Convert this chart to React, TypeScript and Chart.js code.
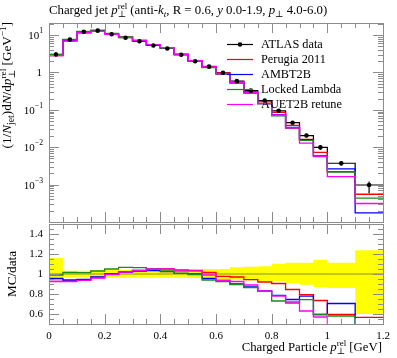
import React, { useEffect, useRef } from "react";
import { Chart, registerables } from "chart.js";
Chart.register(...registerables);

// ---------------- data ----------------
const binEdges = [0, 0.05, 0.1, 0.15, 0.2, 0.25, 0.3, 0.35, 0.4, 0.45, 0.5, 0.55, 0.6, 0.65, 0.7, 0.75, 0.8, 0.85, 0.9, 0.95, 1.0, 1.1, 1.2];
const atlasData = [3.03, 7.55, 12.3, 13.1, 10.5, 8.5, 6.85, 5.25, 4.37, 2.98, 2.0, 1.43, 0.98, 0.585, 0.326, 0.177, 0.094, 0.0453, 0.0205, 0.00988, 0.00373, 0.000975];
const bandLow = [0.94, 0.967, 0.967, 0.965, 0.963, 0.963, 0.963, 0.963, 0.963, 0.963, 0.96, 0.955, 0.95, 0.943, 0.937, 0.927, 0.927, 0.907, 0.893, 0.867, 0.86, 0.6];
const bandHigh = [1.16, 1.033, 1.033, 1.037, 1.04, 1.04, 1.04, 1.04, 1.04, 1.04, 1.045, 1.05, 1.05, 1.067, 1.073, 1.077, 1.103, 1.113, 1.113, 1.143, 1.113, 1.237];
const ratioPerugia = [0.927, 0.93, 0.94, 0.965, 1.0, 1.02, 1.037, 1.05, 1.05, 1.04, 1.037, 1.015, 0.977, 0.97, 0.943, 0.92, 0.905, 0.845, 0.793, 0.735, 0.595, 0.567];
const ratioAMBT2B = [0.955, 0.94, 0.945, 0.97, 1.0, 1.02, 1.03, 1.035, 1.023, 1.007, 1.0, 0.955, 0.935, 0.9, 0.87, 0.83, 0.787, 0.745, 0.778, 0.595, 0.705, 0.18];
const ratioLocked = [0.99, 1.015, 1.013, 1.03, 1.05, 1.067, 1.063, 1.053, 1.03, 1.007, 0.995, 0.94, 0.925, 0.893, 0.865, 0.827, 0.73, 0.71, 0.743, 0.595, 0.58, 0.445];
const ratioAUET2B = [0.925, 0.925, 0.937, 0.96, 0.995, 1.02, 1.037, 1.05, 1.05, 1.03, 1.03, 0.99, 0.937, 0.925, 0.89, 0.83, 0.78, 0.72, 0.63, 0.57, 0.44, 0.32];

const seriesNames = ["ATLAS data", "Perugia 2011", "AMBT2B", "Locked Lambda", "AUET2B retune"];
const seriesColors = ["#000000", "#ff0000", "#0000ff", "#1a8a1a", "#ff00ff"];
const xTickValues = [0, 0.2, 0.4, 0.6, 0.8, 1.0, 1.2];
const xTickLabels = ["0", "0.2", "0.4", "0.6", "0.8", "1", "1.2"];
const ratioTickValues = [0.6, 0.8, 1.0, 1.2, 1.4];
const ratioTickLabels = ["0.6", "0.8", "1", "1.2", "1.4"];
const logTickExps = [1, 0, -1, -2, -3];

// ---------------- helpers ----------------
const FONT = '"Liberation Serif", "DejaVu Serif", serif';
const FRAME = "#8c8c8c";

type Seg = { t: string; it?: boolean; sc?: number; dy?: number; back?: boolean };

function fontFor(s: Seg, size: number) {
  return `${s.it ? "italic " : ""}${size * (s.sc ?? 1)}px ${FONT}`;
}

function richWidth(ctx: CanvasRenderingContext2D, segs: Seg[], size: number) {
  let w = 0;
  let lastW = 0;
  for (const s of segs) {
    ctx.font = fontFor(s, size);
    const sw = ctx.measureText(s.t).width;
    if (s.back) {
      if (sw > lastW) { w += sw - lastW; lastW = sw; }
    } else {
      w += sw;
      lastW = sw;
    }
  }
  return w;
}

function drawRich(ctx: CanvasRenderingContext2D, segs: Seg[], x: number, y: number, size: number, align: "left" | "right" | "center") {
  const total = richWidth(ctx, segs, size);
  let cx = align === "left" ? x : align === "right" ? x - total : x - total / 2;
  let lastStart = cx;
  let lastW = 0;
  ctx.textAlign = "left";
  for (const s of segs) {
    ctx.font = fontFor(s, size);
    const sw = ctx.measureText(s.t).width;
    if (s.back) {
      ctx.fillText(s.t, lastStart, y + (s.dy ?? 0) * size);
      if (sw > lastW) { cx = lastStart + sw; lastW = sw; }
    } else {
      ctx.fillText(s.t, cx, y + (s.dy ?? 0) * size);
      lastStart = cx;
      lastW = sw;
      cx += sw;
    }
  }
}

const SUP = -0.38;
const SUB = 0.22;

function stepPoints(vals: number[]) {
  const pts = vals.map((v, i) => ({ x: binEdges[i], y: v }));
  pts.push({ x: binEdges[vals.length], y: vals[vals.length - 1] });
  return pts;
}

function crisp(v: number) {
  return Math.round(v) + 0.5;
}

function drawXTicks(ctx: CanvasRenderingContext2D, chart: any) {
  const a = chart.chartArea;
  const xs = chart.scales.x;
  for (let i = 0; i <= 24; i++) {
    const v = i * 0.05;
    const px = crisp(xs.getPixelForValue(v));
    const len = i % 4 === 0 ? 10 : 5;
    ctx.beginPath();
    ctx.moveTo(px, a.bottom);
    ctx.lineTo(px, a.bottom - len);
    ctx.moveTo(px, a.top);
    ctx.lineTo(px, a.top + len);
    ctx.stroke();
  }
}

function drawFrame(ctx: CanvasRenderingContext2D, chart: any) {
  const a = chart.chartArea;
  ctx.strokeStyle = FRAME;
  ctx.lineWidth = 1;
  ctx.strokeRect(crisp(a.left), crisp(a.top), Math.round(a.right) - Math.round(a.left), Math.round(a.bottom) - Math.round(a.top));
}

// ---------------- top panel plugin ----------------
const topPlugin = {
  id: "rivetTop",
  afterDatasetsDraw(chart: any) {
    const ctx: CanvasRenderingContext2D = chart.ctx;
    const a = chart.chartArea;
    const xs = chart.scales.x;
    const ys = chart.scales.y;
    ctx.save();
    // error bars for data
    ctx.strokeStyle = "#000";
    ctx.lineWidth = 1.2;
    atlasData.forEach((v, i) => {
      const cx = xs.getPixelForValue((binEdges[i] + binEdges[i + 1]) / 2);
      ctx.beginPath();
      ctx.moveTo(cx, ys.getPixelForValue(v * bandLow[i]));
      ctx.lineTo(cx, ys.getPixelForValue(v * bandHigh[i]));
      ctx.stroke();
    });
    drawFrame(ctx, chart);
    drawXTicks(ctx, chart);
    // log y ticks
    for (let e = -4; e <= 1; e++) {
      for (let m = 1; m <= 9; m++) {
        const v = m * Math.pow(10, e);
        if (v < ys.min || v > ys.max) continue;
        const py = crisp(ys.getPixelForValue(v));
        const len = m === 1 ? 10 : 5;
        ctx.beginPath();
        ctx.moveTo(a.left, py);
        ctx.lineTo(a.left + len, py);
        ctx.moveTo(a.right, py);
        ctx.lineTo(a.right - len, py);
        ctx.stroke();
      }
    }
    // y tick labels
    ctx.fillStyle = "#000";
    ctx.textBaseline = "middle";
    logTickExps.forEach((e) => {
      const py = ys.getPixelForValue(Math.pow(10, e)) + 1;
      if (e === 0) {
        drawRich(ctx, [{ t: "1" }], a.left - 7, py, 11, "right");
      } else {
        drawRich(ctx, [{ t: "10" }, { t: e < 0 ? "\u2212" + -e : String(e), sc: 0.7, dy: -0.45 }], a.left - 6, py, 11, "right");
      }
    });
    // title
    ctx.textBaseline = "alphabetic";
    drawRich(
      ctx,
      [
        { t: "Charged jet " },
        { t: "p", it: true },
        { t: "rel", sc: 0.7, dy: SUP },
        { t: "\u22a5", sc: 0.7, dy: SUB + 0.05, back: true },
        { t: " (anti-" },
        { t: "k", it: true },
        { t: "t", it: true, sc: 0.7, dy: SUB },
        { t: ", R = 0.6, " },
        { t: "y", it: true },
        { t: " 0.0-1.9, " },
        { t: "p", it: true },
        { t: "\u22a5", sc: 0.7, dy: SUB + 0.05 },
        { t: " 4.0-6.0)" },
      ],
      a.left,
      14,
      12.8,
      "left"
    );
    // y axis label
    ctx.save();
    ctx.translate(11, a.top - 1);
    ctx.rotate(-Math.PI / 2);
    drawRich(
      ctx,
      [
        { t: "(1/" },
        { t: "N", it: true },
        { t: "jet", sc: 0.75, dy: 0.2 },
        { t: ")d" },
        { t: "N", it: true },
        { t: "/d" },
        { t: "p", it: true },
        { t: "rel", sc: 0.7, dy: SUP },
        { t: "\u22a5", sc: 0.7, dy: SUB + 0.05, back: true },
        { t: " [GeV" },
        { t: "\u22121", sc: 0.7, dy: SUP },
        { t: "]" },
      ],
      0,
      0,
      13.2,
      "right"
    );
    ctx.restore();
    // legend
    const lx0 = 227, lx1 = 253, tx = 261;
    seriesNames.forEach((name, i) => {
      const y = 44 + 15 * i;
      ctx.strokeStyle = seriesColors[i];
      ctx.lineWidth = 1.2;
      ctx.beginPath();
      ctx.moveTo(lx0, y + 0.5);
      ctx.lineTo(lx1, y + 0.5);
      ctx.stroke();
      if (i === 0) {
        ctx.fillStyle = "#000";
        ctx.beginPath();
        ctx.arc((lx0 + lx1) / 2, y + 0.5, 2.3, 0, Math.PI * 2);
        ctx.fill();
      }
      ctx.fillStyle = "#000";
      ctx.textBaseline = "middle";
      drawRich(ctx, [{ t: name }], tx, y + 1, 12.3, "left");
    });
    ctx.restore();
  },
};

// ---------------- ratio panel plugin ----------------
const ratioPlugin = {
  id: "rivetRatio",
  afterDatasetsDraw(chart: any) {
    const ctx: CanvasRenderingContext2D = chart.ctx;
    const a = chart.chartArea;
    const xs = chart.scales.x;
    const ys = chart.scales.y;
    ctx.save();
    drawFrame(ctx, chart);
    drawXTicks(ctx, chart);
    for (let i = 10; i <= 30; i++) {
      const v = i * 0.05;
      const py = crisp(ys.getPixelForValue(v));
      const len = i % 4 === 0 ? 10 : 5;
      ctx.beginPath();
      ctx.moveTo(a.left, py);
      ctx.lineTo(a.left + len, py);
      ctx.moveTo(a.right, py);
      ctx.lineTo(a.right - len, py);
      ctx.stroke();
    }
    ctx.fillStyle = "#000";
    ctx.textBaseline = "middle";
    ratioTickValues.forEach((v, i) => {
      drawRich(ctx, [{ t: ratioTickLabels[i] }], a.left - 6, ys.getPixelForValue(v) + 0.5, 11, "right");
    });
    xTickValues.forEach((v, i) => {
      drawRich(ctx, [{ t: xTickLabels[i] }], xs.getPixelForValue(v), a.bottom + 12, 11, "center");
    });
    ctx.textBaseline = "alphabetic";
    drawRich(
      ctx,
      [{ t: "Charged Particle " }, { t: "p", it: true }, { t: "rel", sc: 0.7, dy: SUP }, { t: "\u22a5", sc: 0.7, dy: SUB + 0.05, back: true }, { t: " [GeV]" }],
      a.right - 1,
      a.bottom + 27,
      12.8,
      "right"
    );
    ctx.save();
    ctx.translate(16, (a.top + a.bottom) / 2);
    ctx.rotate(-Math.PI / 2);
    drawRich(ctx, [{ t: "MC/data" }], 0, 0, 13.2, "center");
    ctx.restore();
    ctx.restore();
  },
};

function baseOptions(padding: any, yScale: any) {
  return {
    animation: false as const,
    responsive: false,
    maintainAspectRatio: false,
    layout: { padding },
    plugins: { legend: { display: false }, tooltip: { enabled: false }, title: { display: false } },
    elements: { point: { radius: 0 }, line: { tension: 0 } },
    scales: {
      x: { type: "linear" as const, min: 0, max: 1.2, display: false },
      y: yScale,
    },
  };
}

const mcRatios = [ratioPerugia, ratioAMBT2B, ratioLocked, ratioAUET2B];
const STEP = "before";

export default function App() {
  const topRef = useRef<HTMLCanvasElement>(null);
  const botRef = useRef<HTMLCanvasElement>(null);

  useEffect(() => {
    const topDatasets: any[] = [];
    topDatasets.push({
      label: seriesNames[0] + " steps",
      data: stepPoints(atlasData),
      stepped: STEP,
      borderColor: "#000",
      borderWidth: 1.2,
      pointRadius: 0,
      fill: false,
      order: 10,
    });
    mcRatios.forEach((r, k) => {
      topDatasets.push({
        label: seriesNames[k + 1],
        data: stepPoints(atlasData.map((v, i) => v * r[i])),
        stepped: STEP,
        borderColor: seriesColors[k + 1],
        borderWidth: 1.3,
        pointRadius: 0,
        fill: false,
        order: 8 - k,
      });
    });
    topDatasets.push({
      label: seriesNames[0],
      data: atlasData.map((v, i) => ({ x: (binEdges[i] + binEdges[i + 1]) / 2, y: v })),
      showLine: false,
      pointRadius: 2.3,
      pointBackgroundColor: "#000",
      pointBorderColor: "#000",
      pointBorderWidth: 0,
      order: 0,
    });

    const c1 = new Chart(topRef.current as HTMLCanvasElement, {
      type: "line",
      data: { datasets: topDatasets },
      options: baseOptions({ left: 49, right: 14, top: 23, bottom: 2 }, { type: "logarithmic", min: 1e-4, max: 21, display: false }) as any,
      plugins: [topPlugin],
    });

    const ratioDatasets: any[] = [];
    ratioDatasets.push({
      label: "band high",
      data: stepPoints(bandHigh),
      stepped: STEP,
      borderWidth: 0,
      borderColor: "rgba(0,0,0,0)",
      backgroundColor: "#ffff00",
      pointRadius: 0,
      fill: "+1",
      order: 100,
    });
    ratioDatasets.push({
      label: "band low",
      data: stepPoints(bandLow),
      stepped: STEP,
      borderWidth: 0,
      borderColor: "rgba(0,0,0,0)",
      pointRadius: 0,
      fill: false,
      order: 99,
    });
    ratioDatasets.push({
      label: "unity",
      data: [{ x: 0, y: 1 }, { x: 1.2, y: 1 }],
      borderColor: "rgba(60,60,60,0.6)",
      borderWidth: 1,
      pointRadius: 0,
      fill: false,
      order: 50,
    });
    mcRatios.forEach((r, k) => {
      ratioDatasets.push({
        label: seriesNames[k + 1],
        data: stepPoints(r),
        stepped: STEP,
        borderColor: seriesColors[k + 1],
        borderWidth: 1.3,
        pointRadius: 0,
        fill: false,
        order: 8 - k,
      });
    });

    const c2 = new Chart(botRef.current as HTMLCanvasElement, {
      type: "line",
      data: { datasets: ratioDatasets },
      options: baseOptions({ left: 49, right: 14, top: 1, bottom: 34 }, { type: "linear", min: 0.5, max: 1.5, display: false }) as any,
      plugins: [ratioPlugin],
    });

    return () => {
      c1.destroy();
      c2.destroy();
    };
  }, []);

  return (
    <div style={{ position: "absolute", left: 0, top: 0, width: 397, height: 358, background: "#fff", overflow: "hidden" }}>
      <canvas ref={topRef} width={397} height={226} style={{ position: "absolute", left: 0, top: 0, width: 397, height: 226 }} />
      <canvas ref={botRef} width={397} height={135} style={{ position: "absolute", left: 0, top: 223, width: 397, height: 135 }} />
    </div>
  );
}
